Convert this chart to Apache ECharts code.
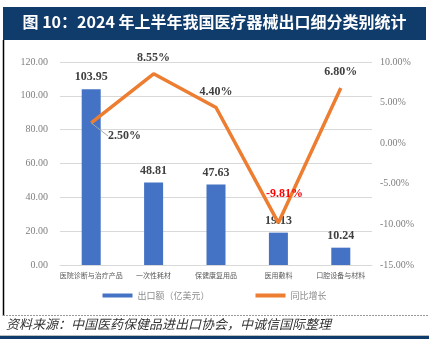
<!DOCTYPE html>
<html><head><meta charset="utf-8">
<script src="https://cdn.jsdelivr.net/npm/echarts@6/dist/echarts.min.js"></script>
<style>html,body{margin:0;padding:0;background:#fff}#c{width:429px;height:339px}</style>
</head><body><div id="c"></div>
<script>
const categories = ['医院诊断与治疗产品','一次性耗材','保健康复用品','医用敷料','口腔设备与材料'];
const exportValues = [103.95, 48.81, 47.63, 19.13, 10.24];
const growthValues = [2.50, 8.55, 4.40, -9.81, 6.80];
const leftTicks = {min: 0, max: 120, interval: 20};
const rightTicks = {min: -15, max: 10, interval: 5};

const serif = '"Liberation Serif","Times New Roman",serif';
const cjk = '"Noto Sans CJK SC",sans-serif';
const chart = echarts.init(document.getElementById('c'));
const navy = '#103c6c';

chart.setOption({
  animation: false,
  grid: {left: 60, right: 57, top: 62, bottom: 74},
  legend: {
    bottom: 34, left: 'center', itemGap: 46, itemWidth: 30, itemHeight: 4,
    textStyle: {fontFamily: cjk, fontSize: 9, color: '#8c8c8c'},
    data: [{name: '出口额（亿美元）', icon: 'rect'}, {name: '同比增长', icon: 'rect'}]
  },
  xAxis: {
    type: 'category', data: categories,
    axisLine: {lineStyle: {color: '#d9d9d9'}}, axisTick: {show: false},
    axisLabel: {fontFamily: cjk, fontSize: 7, color: '#595959', margin: 7, interval: 0}
  },
  yAxis: [{
    type: 'value', min: leftTicks.min, max: leftTicks.max, interval: leftTicks.interval,
    axisLabel: {fontFamily: serif, fontSize: 10, color: '#7f7f7f', formatter: v => v.toFixed(2), margin: 12},
    splitLine: {lineStyle: {color: '#d9d9d9'}}, axisLine: {show: false}, axisTick: {show: false}
  }, {
    type: 'value', min: rightTicks.min, max: rightTicks.max, interval: rightTicks.interval,
    axisLabel: {fontFamily: serif, fontSize: 10, color: '#7f7f7f', formatter: v => v.toFixed(2) + '%', margin: 8},
    splitLine: {show: false}, axisLine: {show: false}, axisTick: {show: false}
  }],
  series: [{
    name: '出口额（亿美元）', type: 'bar', data: exportValues, barWidth: 19,
    itemStyle: {color: '#4472c4'},
    label: {show: true, position: 'top', distance: 6, fontFamily: serif, fontWeight: 'bold', fontSize: 12, color: '#404040', formatter: p => p.value.toFixed(2)}
  }, {
    name: '同比增长', type: 'line', yAxisIndex: 1, data: growthValues.map((v, i) => {
      const d = {value: v};
      if (i === 0) d.labelLine = {show: true, lineStyle: {color: '#a6a6a6', width: 1}};
      if (i === 3) d.label = {color: '#ff0000'};
      return d;
    }),
    symbol: 'circle', symbolSize: 0.1, showSymbol: true,
    lineStyle: {color: '#ed7d31', width: 3.5}, itemStyle: {color: '#ed7d31'},
    label: {show: true, position: 'top', distance: 10, fontFamily: serif, fontWeight: 'bold', fontSize: 12, color: '#404040', formatter: p => p.value.toFixed(2) + '%'},
    labelLayout: p => p.dataIndex === 0 ? {x: 108, y: 136, align: 'left', verticalAlign: 'middle'}
      : (p.dataIndex === 3 ? {dx: 6, dy: -13} : null)
  }],
  graphic: [
    {type: 'rect', left: 3, top: 7, shape: {width: 423, height: 33}, style: {fill: navy}, silent: true},
    {type: 'text', left: 'center', top: 14, style: {text: '图 10：2024 年上半年我国医疗器械出口细分类别统计', fill: '#fff', font: 'bold 16px "Noto Sans CJK SC"'}},
    {type: 'line', shape: {x1: 3.5, y1: 40, x2: 3.5, y2: 316}, style: {stroke: '#000', lineWidth: 1.5}},
    {type: 'line', shape: {x1: 3, y1: 315.5, x2: 429, y2: 315.5}, style: {stroke: '#9a9a9a', lineWidth: 1, lineDash: [2, 1]}},
    {type: 'text', left: 6, top: 318, style: {text: '资料来源：中国医药保健品进出口协会，中诚信国际整理', fill: '#333', font: 'italic 13px "Noto Sans CJK SC"'}},
    {type: 'line', shape: {x1: 0, y1: 335.5, x2: 429, y2: 335.5}, style: {stroke: '#bfbfbf', lineWidth: 1}},
    {type: 'rect', left: 0, top: 336, shape: {width: 429, height: 3}, style: {fill: navy}}
  ]
});
</script></body></html>
